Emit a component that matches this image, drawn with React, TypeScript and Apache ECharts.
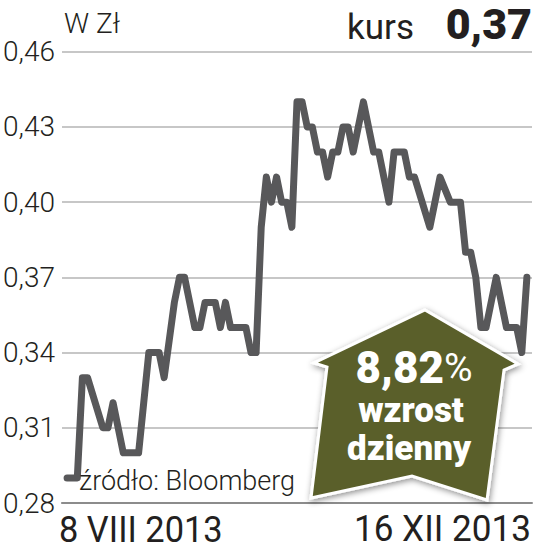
import React, { useEffect, useRef } from "react";
import * as echarts from "echarts";

const dayIdx = [0,2,3,4,7,8,9,11,14,16,18,19,21,22,23,25,26,27,29,30,31,32,35,36,37,38,39,40,41,42,43,44,45,46,47,48,49,50,51,52,53,54,55,56,58,60,61,63,64,66,67,68,71,73,75,77,78,79,80,81,82,84,86,88,89,90];
const price = [0.29,0.29,0.33,0.33,0.31,0.31,0.32,0.30,0.30,0.34,0.34,0.33,0.36,0.37,0.37,0.35,0.35,0.36,0.36,0.35,0.36,0.35,0.35,0.34,0.34,0.39,0.41,0.40,0.41,0.40,0.40,0.39,0.44,0.44,0.43,0.43,0.42,0.42,0.41,0.42,0.42,0.43,0.43,0.42,0.44,0.42,0.42,0.40,0.42,0.42,0.41,0.41,0.39,0.41,0.40,0.40,0.38,0.38,0.37,0.35,0.35,0.37,0.35,0.35,0.34,0.37];
const yTicks = [0.28, 0.31, 0.34, 0.37, 0.40, 0.43, 0.46];
const startLabel = "8 VIII 2013";
const endLabel = "16 XII 2013";
const unitLabel = "W Zł";
const lastPrice = "0,37";
const changePct = "8,82";

const FONT = "Roboto, 'Noto Sans', sans-serif";

export default function App() {
  const ref = useRef<HTMLDivElement>(null);
  useEffect(() => {
    if (!ref.current) return;
    const chart = echarts.init(ref.current, undefined, { renderer: "svg" });
    const fmt = (v: number) => v.toFixed(2).replace(".", ",");
    chart.setOption({
      animation: false,
      backgroundColor: "#ffffff",
      grid: { left: 61, right: 15, top: 51.7, bottom: 551 - 503 },
      xAxis: {
        type: "value",
        min: -1,
        max: 91,
        axisLine: { show: true, lineStyle: { color: "#8c8c8c", width: 2 } },
        axisTick: { show: false },
        axisLabel: { show: false },
        splitLine: { show: false },
      },
      yAxis: {
        type: "value",
        min: 0.28,
        max: 0.46,
        axisLine: { show: false },
        axisTick: { show: false, customValues: yTicks },
        axisLabel: {
          customValues: yTicks,
          formatter: fmt,
          fontFamily: FONT,
          fontSize: 28,
          fontWeight: 300,
          color: "#231f20",
          margin: 7,
        },
        splitLine: { show: true, lineStyle: { color: "#b4b4b4", width: 1.5 } },
      },
      series: [
        {
          type: "line",
          data: dayIdx.map((d, i) => [d, price[i]]),
          showSymbol: false,
          lineStyle: { color: "#58585a", width: 7, cap: "round", join: "round" },
          z: 3,
        },
      ],
      graphic: [
        { type: "text", x: 64, y: 23, style: { text: unitLabel, fontFamily: FONT, fontSize: 28, fontWeight: 300, fill: "#231f20", verticalAlign: "middle" } },
        { type: "text", x: 347, y: 27, style: { text: "kurs", fontFamily: FONT, fontSize: 35, fontWeight: 400, fill: "#231f20", verticalAlign: "middle" } },
        { type: "text", x: 532, y: 24, style: { text: lastPrice, fontFamily: FONT, fontSize: 43, fontWeight: 900, fill: "#231f20", align: "right", verticalAlign: "middle" } },
        { type: "text", x: 59, y: 530, scaleX: 0.93, style: { text: startLabel, fontFamily: FONT, fontSize: 37, fontWeight: 400, fill: "#231f20", verticalAlign: "middle" } },
        { type: "text", x: 531, y: 529, scaleX: 0.95, style: { text: endLabel, fontFamily: FONT, fontSize: 37, fontWeight: 400, fill: "#231f20", align: "right", verticalAlign: "middle" } },
        { type: "text", x: 79, y: 481, z: 50, style: { text: "źródło: Bloomberg", fontFamily: FONT, fontSize: 27, fontWeight: 300, fill: "#231f20", verticalAlign: "middle" } },
        {
          type: "polygon",
          z: 100,
          shape: {
            points: [
              [425, 310], [518, 364], [504, 370], [487, 500], [412, 476], [311, 498], [327, 367], [314, 363],
            ],
          },
          style: {
            fill: "#5a5f2b",
            stroke: "#ffffff",
            lineWidth: 3,
            shadowBlur: 6,
            shadowColor: "rgba(0,0,0,0.45)",
            shadowOffsetX: 1,
            shadowOffsetY: 2,
          },
        },
        {
          type: "text", x: 414, y: 368, z: 101,
          style: {
            text: "{a|" + changePct + "}{b|%}",
            align: "center", verticalAlign: "middle",
            rich: {
              a: { fontFamily: FONT, fontSize: 44, fontWeight: 900, fill: "#ffffff", lineHeight: 42 },
              b: { fontFamily: FONT, fontSize: 39, fontWeight: 400, fill: "#ffffff", lineHeight: 42 },
            },
          },
        },
        { type: "text", x: 411, y: 410, z: 101, style: { text: "wzrost", fontFamily: FONT, fontSize: 35, lineHeight: 34, fontWeight: 900, fill: "#ffffff", align: "center", verticalAlign: "middle" } },
        { type: "text", x: 409, y: 448, z: 101, style: { text: "dzienny", fontFamily: FONT, fontSize: 35, lineHeight: 34, fontWeight: 900, fill: "#ffffff", align: "center", verticalAlign: "middle" } },
      ],
    });
    return () => chart.dispose();
  }, []);
  return <div ref={ref} style={{ position: "fixed", left: 0, top: 0, width: 547, height: 551 }} />;
}
